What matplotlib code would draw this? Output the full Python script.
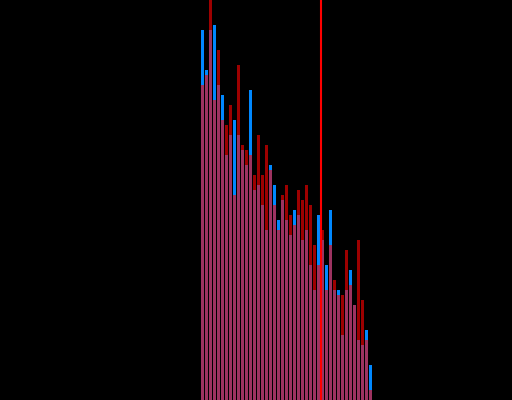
import numpy as np
import matplotlib.pyplot as plt

# bin counts for the two samples
counts_a = [74, 66, 74, 75, 63, 61, 49, 53, 56, 53,
            50, 47, 62, 42, 43, 39, 34, 47, 43, 36,
            40, 36, 33, 38, 37, 32, 34, 27, 22, 37,
            32, 27, 38, 22, 22, 13, 22, 26, 19, 12,
            11, 14, 7]
counts_b = [63, 65, 80, 60, 70, 56, 55, 59, 41, 67,
            51, 50, 49, 45, 53, 45, 51, 46, 39, 34,
            41, 43, 37, 35, 42, 40, 43, 39, 31, 27,
            34, 22, 31, 24, 21, 21, 30, 23, 19, 32,
            20, 12, 2]
marker_pos = 29.5

bins = np.arange(len(counts_a))

fig = plt.figure(figsize=(5.12, 4.0), dpi=100, facecolor='black')
ax = fig.add_axes([0, 0, 1, 1])
ax.set_facecolor('black')

ax.bar(bins, counts_a, width=0.75, color='#0088ff', linewidth=0)
ax.bar(bins, counts_b, width=0.75, color='#ff0000', alpha=0.62, linewidth=0)
# vertical marker line
ax.axvline(marker_pos, color='#ff0000', linewidth=1.5)

ax.set_xlim(-50.625, 77.375)
ax.set_ylim(0, 80)
ax.axis('off')

fig.savefig('out.png', dpi=100, facecolor='black')
